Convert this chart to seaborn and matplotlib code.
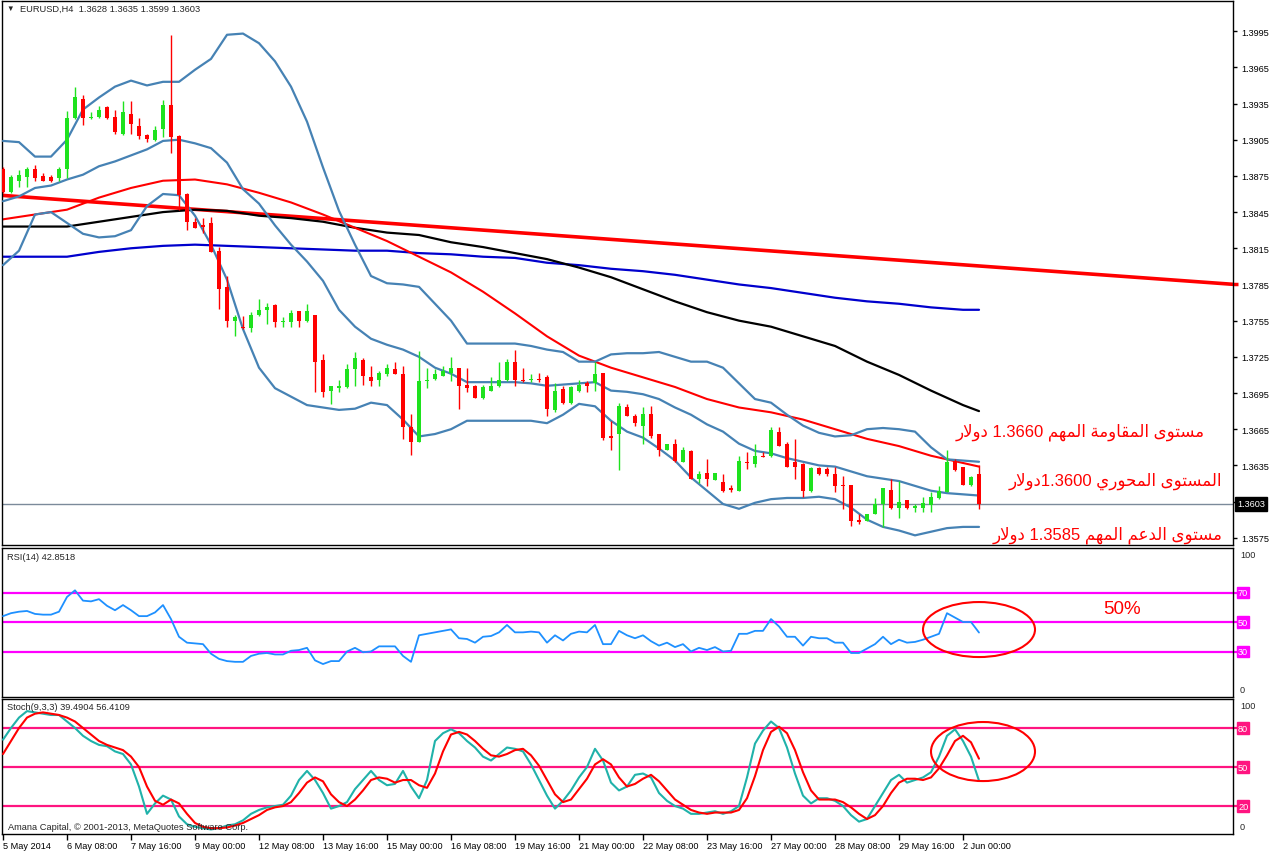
import re
import numpy as np
import pandas as pd
import matplotlib
matplotlib.use("Agg")
import matplotlib.pyplot as plt
import matplotlib.transforms as mtrans
from matplotlib.patches import Ellipse
import seaborn as sns

sns.set_style("white")
plt.rcParams['font.family'] = ['Liberation Sans', 'DejaVu Sans']

# EURUSD H4 candles
opens = [1.3881, 1.3862, 1.3871, 1.3874, 1.3881, 1.3875, 1.3874, 1.3873, 1.3881, 1.3923,
         1.3939, 1.3923, 1.3924, 1.3932, 1.3924, 1.3910, 1.3926, 1.3916, 1.3909, 1.3905,
         1.3914, 1.3934, 1.3908, 1.3860, 1.3837, 1.3834, 1.3836, 1.3813, 1.3783, 1.3755,
         1.3750, 1.3749, 1.3760, 1.3764, 1.3768, 1.3754, 1.3754, 1.3763, 1.3755, 1.3760,
         1.3722, 1.3697, 1.3699, 1.3700, 1.3715, 1.3722, 1.3708, 1.3706, 1.3711, 1.3715,
         1.3711, 1.3667, 1.3654, 1.3705, 1.3707, 1.3709, 1.3712, 1.3716, 1.3702, 1.3701,
         1.3691, 1.3697, 1.3701, 1.3706, 1.3721, 1.3706, 1.3706, 1.3707, 1.3708, 1.3681,
         1.3698, 1.3687, 1.3697, 1.3703, 1.3703, 1.3712, 1.3659, 1.3661, 1.3683, 1.3676,
         1.3668, 1.3678, 1.3661, 1.3648, 1.3653, 1.3638, 1.3647, 1.3624, 1.3629, 1.3623,
         1.3621, 1.3616, 1.3614, 1.3638, 1.3636, 1.3643, 1.3643, 1.3663, 1.3653, 1.3638,
         1.3636, 1.3614, 1.3633, 1.3632, 1.3628, 1.3619, 1.3619, 1.3590, 1.3589, 1.3595,
         1.3603, 1.3615, 1.3600, 1.3606, 1.3600, 1.3600, 1.3602, 1.3608, 1.3613, 1.3639,
         1.3634, 1.3619, 1.3628]
highs = [1.3882, 1.3876, 1.3880, 1.3882, 1.3884, 1.3877, 1.3876, 1.3882, 1.3929, 1.3949,
         1.3942, 1.3928, 1.3933, 1.3933, 1.3930, 1.3937, 1.3937, 1.3923, 1.3910, 1.3916,
         1.3938, 1.3992, 1.3909, 1.3861, 1.3840, 1.3840, 1.3841, 1.3816, 1.3792, 1.3760,
         1.3759, 1.3762, 1.3773, 1.3770, 1.3769, 1.3758, 1.3764, 1.3763, 1.3769, 1.3760,
         1.3727, 1.3701, 1.3706, 1.3719, 1.3729, 1.3724, 1.3717, 1.3713, 1.3719, 1.3721,
         1.3717, 1.3678, 1.3730, 1.3716, 1.3715, 1.3717, 1.3725, 1.3716, 1.3716, 1.3702,
         1.3702, 1.3708, 1.3721, 1.3723, 1.3731, 1.3716, 1.3711, 1.3712, 1.3710, 1.3703,
         1.3701, 1.3701, 1.3706, 1.3705, 1.3721, 1.3712, 1.3672, 1.3687, 1.3686, 1.3678,
         1.3683, 1.3684, 1.3661, 1.3653, 1.3657, 1.3650, 1.3648, 1.3630, 1.3640, 1.3629,
         1.3628, 1.3619, 1.3643, 1.3646, 1.3653, 1.3646, 1.3667, 1.3667, 1.3654, 1.3657,
         1.3637, 1.3634, 1.3634, 1.3634, 1.3634, 1.3626, 1.3619, 1.3595, 1.3595, 1.3608,
         1.3616, 1.3624, 1.3622, 1.3606, 1.3603, 1.3609, 1.3613, 1.3618, 1.3648, 1.3640,
         1.3634, 1.3626, 1.3635]
lows = [1.3861, 1.3861, 1.3866, 1.3866, 1.3871, 1.3871, 1.3870, 1.3871, 1.3873, 1.3922,
        1.3917, 1.3922, 1.3923, 1.3922, 1.3910, 1.3909, 1.3910, 1.3906, 1.3903, 1.3904,
        1.3907, 1.3894, 1.3847, 1.3830, 1.3832, 1.3828, 1.3812, 1.3765, 1.3750, 1.3742,
        1.3748, 1.3746, 1.3759, 1.3752, 1.3750, 1.3750, 1.3750, 1.3750, 1.3754, 1.3696,
        1.3692, 1.3686, 1.3696, 1.3699, 1.3701, 1.3702, 1.3701, 1.3701, 1.3709, 1.3711,
        1.3657, 1.3644, 1.3654, 1.3699, 1.3706, 1.3709, 1.3705, 1.3682, 1.3696, 1.3691,
        1.3690, 1.3697, 1.3700, 1.3705, 1.3701, 1.3704, 1.3704, 1.3704, 1.3676, 1.3679,
        1.3686, 1.3686, 1.3696, 1.3696, 1.3697, 1.3656, 1.3648, 1.3631, 1.3676, 1.3668,
        1.3653, 1.3658, 1.3643, 1.3648, 1.3638, 1.3638, 1.3624, 1.3620, 1.3618, 1.3623,
        1.3613, 1.3613, 1.3614, 1.3632, 1.3634, 1.3642, 1.3642, 1.3651, 1.3634, 1.3624,
        1.3609, 1.3613, 1.3627, 1.3626, 1.3613, 1.3599, 1.3585, 1.3586, 1.3589, 1.3595,
        1.3584, 1.3599, 1.3591, 1.3599, 1.3596, 1.3596, 1.3596, 1.3607, 1.3613, 1.3630,
        1.3619, 1.3618, 1.3599]
closes = [1.3862, 1.3874, 1.3876, 1.3881, 1.3873, 1.3871, 1.3871, 1.3881, 1.3923, 1.3940,
          1.3923, 1.3924, 1.3930, 1.3923, 1.3911, 1.3928, 1.3918, 1.3908, 1.3906, 1.3913,
          1.3934, 1.3907, 1.3859, 1.3837, 1.3832, 1.3833, 1.3812, 1.3781, 1.3755, 1.3758,
          1.3749, 1.3760, 1.3764, 1.3766, 1.3754, 1.3755, 1.3761, 1.3755, 1.3763, 1.3721,
          1.3696, 1.3701, 1.3701, 1.3715, 1.3724, 1.3709, 1.3705, 1.3712, 1.3716, 1.3711,
          1.3667, 1.3654, 1.3705, 1.3706, 1.3711, 1.3713, 1.3716, 1.3701, 1.3699, 1.3691,
          1.3700, 1.3701, 1.3706, 1.3721, 1.3706, 1.3705, 1.3707, 1.3706, 1.3682, 1.3697,
          1.3687, 1.3700, 1.3702, 1.3701, 1.3711, 1.3658, 1.3658, 1.3684, 1.3676, 1.3670,
          1.3678, 1.3659, 1.3648, 1.3653, 1.3639, 1.3648, 1.3624, 1.3628, 1.3624, 1.3629,
          1.3614, 1.3615, 1.3639, 1.3637, 1.3643, 1.3642, 1.3664, 1.3651, 1.3634, 1.3634,
          1.3614, 1.3633, 1.3628, 1.3628, 1.3618, 1.3618, 1.3589, 1.3588, 1.3595, 1.3603,
          1.3616, 1.3600, 1.3605, 1.3600, 1.3601, 1.3604, 1.3609, 1.3614, 1.3638, 1.3631,
          1.3619, 1.3625, 1.3603]

# Bollinger bands, sampled every 2 bars
bb_idx = list(range(0, 121, 2)) + [122]
bb_upper = [1.3904, 1.3903, 1.3891, 1.3891, 1.3905, 1.3930, 1.3940, 1.3949, 1.3954, 1.3950,
            1.3953, 1.3953, 1.3963, 1.3972, 1.3992, 1.3993, 1.3985, 1.3970, 1.3949, 1.3920,
            1.3882, 1.3846, 1.3818, 1.3792, 1.3786, 1.3785, 1.3783, 1.3769, 1.3755, 1.3736,
            1.3736, 1.3736, 1.3736, 1.3734, 1.3731, 1.3729, 1.3721, 1.3721, 1.3727, 1.3728,
            1.3728, 1.3729, 1.3725, 1.3721, 1.3721, 1.3716, 1.3703, 1.3690, 1.3687, 1.3677,
            1.3668, 1.3662, 1.3659, 1.3660, 1.3665, 1.3666, 1.3665, 1.3663, 1.3650, 1.3640,
            1.3639, 1.3638]
bb_middle = [1.3854, 1.3858, 1.3865, 1.3867, 1.3872, 1.3876, 1.3883, 1.3887, 1.3892, 1.3897,
             1.3904, 1.3905, 1.3902, 1.3898, 1.3886, 1.3864, 1.3852, 1.3834, 1.3818, 1.3804,
             1.3788, 1.3764, 1.3750, 1.3740, 1.3735, 1.3731, 1.3725, 1.3716, 1.3711, 1.3704,
             1.3704, 1.3704, 1.3704, 1.3703, 1.3701, 1.3702, 1.3703, 1.3704, 1.3697, 1.3696,
             1.3694, 1.3690, 1.3683, 1.3677, 1.3669, 1.3663, 1.3653, 1.3647, 1.3645, 1.3641,
             1.3638, 1.3635, 1.3634, 1.3630, 1.3626, 1.3624, 1.3622, 1.3618, 1.3614, 1.3612,
             1.3611, 1.3610]
bb_lower = [1.3801, 1.3813, 1.3843, 1.3845, 1.3836, 1.3827, 1.3824, 1.3825, 1.3830, 1.3850,
            1.3860, 1.3859, 1.3842, 1.3818, 1.3789, 1.3748, 1.3716, 1.3699, 1.3692, 1.3685,
            1.3683, 1.3681, 1.3682, 1.3687, 1.3685, 1.3673, 1.3659, 1.3661, 1.3665, 1.3672,
            1.3672, 1.3672, 1.3672, 1.3672, 1.3670, 1.3677, 1.3686, 1.3684, 1.3672, 1.3663,
            1.3658, 1.3649, 1.3639, 1.3625, 1.3614, 1.3603, 1.3599, 1.3604, 1.3607, 1.3608,
            1.3608, 1.3609, 1.3607, 1.3600, 1.3590, 1.3584, 1.3581, 1.3577, 1.3580, 1.3583,
            1.3584, 1.3584]

# moving averages, sampled every 4 bars
ma_idx = [0, 4, 8, 12, 16, 20, 24, 28, 32, 36, 40, 44, 48, 52, 56, 60,
          64, 68, 72, 76, 80, 84, 88, 92, 96, 100, 104, 108, 112, 116, 120, 122]
ma_red = [1.3839, 1.3843, 1.3847, 1.3857, 1.3865, 1.3871, 1.3872, 1.3868, 1.3861, 1.3853,
          1.3843, 1.3832, 1.3821, 1.3808, 1.3795, 1.3779, 1.3761, 1.3742, 1.3726, 1.3716,
          1.3708, 1.3700, 1.3690, 1.3683, 1.3679, 1.3673, 1.3665, 1.3657, 1.3651, 1.3643,
          1.3637, 1.3634]
ma_black = [1.3833, 1.3833, 1.3833, 1.3837, 1.3841, 1.3845, 1.3847, 1.3846, 1.3842, 1.3840,
            1.3837, 1.3832, 1.3828, 1.3826, 1.3820, 1.3816, 1.3811, 1.3806, 1.3799, 1.3791,
            1.3781, 1.3771, 1.3762, 1.3755, 1.3750, 1.3742, 1.3734, 1.3721, 1.3710, 1.3697,
            1.3685, 1.3680]
ma_blue = [1.3808, 1.3808, 1.3808, 1.3812, 1.3815, 1.3817, 1.3818, 1.3817, 1.3816, 1.3815,
           1.3814, 1.3813, 1.3813, 1.3811, 1.3810, 1.3808, 1.3807, 1.3803, 1.3801, 1.3798,
           1.3796, 1.3793, 1.3789, 1.3785, 1.3782, 1.3778, 1.3774, 1.3771, 1.3769, 1.3766,
           1.3764, 1.3764]

# hand-drawn trend line
trend_idx = [-0.4, 154.0]
trend_px = [1.3859, 1.3785]

rsi = [54, 56, 57, 57.5, 55.5, 55, 55, 57, 67, 71.5,
       64.5, 64, 65.5, 61, 58, 61.5, 58, 54, 54, 56.5,
       61.5, 52, 40, 36, 35.5, 35, 28.5, 25, 23.5, 23,
       23, 27, 28.5, 29, 28, 28, 30.5, 31, 32.5, 24,
       21.5, 23.5, 23.5, 30, 32.5, 29.5, 30, 33.5, 33.5, 33.5,
       27, 23, 41, 42, 43, 44, 45, 39, 38.5, 36,
       40, 40.5, 43, 48, 43, 43, 43.5, 43, 36, 41,
       37.5, 42, 43.5, 43, 48, 35, 35, 44, 41, 39,
       41, 37, 34, 36, 33, 35, 30, 32.5, 31, 33,
       30, 30.5, 42, 42, 44, 44, 52, 47, 40, 40,
       34, 40, 39, 39, 36, 36, 29, 29, 32, 35,
       40, 35, 38, 36, 36.5, 38, 40, 42, 56, 53,
       50, 50, 42.8518]

stoch_k = [71, 80, 88, 93, 92, 91, 90, 90, 85, 80,
           74, 70, 67, 66, 62, 60, 52, 35, 14, 22,
           28, 25, 12, 6, 4, 3, 2, 3, 5, 6,
           9, 14, 17, 19, 20, 21, 28, 40, 47, 40,
           30, 18, 20, 23, 33, 40, 47, 40, 36, 37,
           47, 35, 26, 40, 70, 76, 79, 76, 70, 65,
           58, 55, 60, 65, 64, 62, 52, 40, 28, 18,
           24, 32, 42, 50, 64, 55, 38, 32, 35, 44,
           45, 42, 30, 24, 20, 18, 14, 14, 15, 16,
           14, 16, 20, 42, 68, 78, 85, 80, 65, 45,
           28, 22, 26, 26, 24, 20, 13, 8, 10, 20,
           30, 40, 44, 38, 40, 42, 46, 58, 74, 79,
           70, 58, 39.4904]
stoch_d = [60, 70, 80, 88, 91, 92, 91, 90, 88, 85,
           80, 75, 70, 67, 65, 63, 58, 50, 35, 24,
           21, 25, 22, 14, 7, 4, 3, 3, 3.5, 5,
           7, 10, 13, 17, 19, 20, 23, 30, 38, 42,
           39, 29, 23, 20, 25, 32, 40, 42, 41, 38,
           40, 40, 36, 34, 45, 62, 75, 77, 75, 70,
           64, 59, 58, 60, 63, 64, 59, 51, 40, 29,
           23, 25, 33, 41, 52, 56, 52, 42, 35, 37,
           41, 44, 39, 32, 25, 21, 17, 15, 14, 15,
           15, 15, 17, 26, 43, 63, 77, 81, 76, 63,
           46, 32, 25, 25, 25, 23, 19, 14, 10, 13,
           20, 30, 38, 41, 41, 40, 42, 49, 59, 70,
           74, 69, 56.4109]

date_labels = ["5 May 2014", "6 May 08:00", "7 May 16:00", "9 May 00:00", "12 May 08:00",
               "13 May 16:00", "15 May 00:00", "16 May 08:00", "19 May 16:00", "21 May 00:00",
               "22 May 08:00", "23 May 16:00", "27 May 00:00", "28 May 08:00", "29 May 16:00",
               "2 Jun 00:00"]

note_resist = "مستوى المقاومة المهم 1.3660 دولار"
note_pivot = "المستوى المحوري 1.3600دولار"
note_support = "مستوى الدعم المهم 1.3585 دولار"


# tiny Arabic shaper: contextual forms + right-to-left order
AR_FORMS = {
    'ا': ('\ufe8d', '\ufe8e', None, None),
    'ت': ('\ufe95', '\ufe96', '\ufe97', '\ufe98'),
    'ح': ('\ufea1', '\ufea2', '\ufea3', '\ufea4'),
    'د': ('\ufea9', '\ufeaa', None, None),
    'ر': ('\ufead', '\ufeae', None, None),
    'س': ('\ufeb1', '\ufeb2', '\ufeb3', '\ufeb4'),
    'ع': ('\ufec9', '\ufeca', '\ufecb', '\ufecc'),
    'ف': ('\ufed1', '\ufed2', '\ufed3', '\ufed4'),
    'ق': ('\ufed5', '\ufed6', '\ufed7', '\ufed8'),
    'ل': ('\ufedd', '\ufede', '\ufedf', '\ufee0'),
    'م': ('\ufee1', '\ufee2', '\ufee3', '\ufee4'),
    'ه': ('\ufee9', '\ufeea', '\ufeeb', '\ufeec'),
    'ة': ('\ufe93', '\ufe94', None, None),
    'و': ('\ufeed', '\ufeee', None, None),
    'ى': ('\ufeef', '\ufef0', None, None),
    'ي': ('\ufef1', '\ufef2', '\ufef3', '\ufef4'),
}


def shape_arabic(text):
    out = []
    i = 0
    while i < len(text):
        ch = text[i]
        if ch not in AR_FORMS:
            out.append(ch)
            i += 1
            continue
        prev = text[i - 1] if i > 0 else ''
        joins_prev = prev in AR_FORMS and AR_FORMS[prev][2] is not None
        if ch == 'ل' and i + 1 < len(text) and text[i + 1] == 'ا':
            out.append('\ufefc' if joins_prev else '\ufefb')
            i += 2
            continue
        nxt = text[i + 1] if i + 1 < len(text) else ''
        joins_next = AR_FORMS[ch][2] is not None and nxt in AR_FORMS
        iso, fin, ini, med = AR_FORMS[ch]
        if joins_prev and joins_next:
            out.append(med)
        elif joins_prev:
            out.append(fin)
        elif joins_next:
            out.append(ini)
        else:
            out.append(iso)
        i += 1
    s = ''.join(out)[::-1]
    return re.sub(r'[0-9.]+', lambda m: m.group(0)[::-1], s)


BULL = '#1ee21e'
BEAR = '#ff0000'
BB_COL = '#4682b4'
W, H = 1276, 853

fig = plt.figure(figsize=(W / 100, H / 100), dpi=100)


def panel(top, bottom):
    return fig.add_axes([2 / W, 1 - bottom / H, 1231 / W, (bottom - top) / H])


ax = panel(2, 546)
ax_rsi = panel(549, 698)
ax_st = panel(700, 835)

for a in (ax, ax_rsi, ax_st):
    a.set_xlim(-0.125, 153.75)
    for s in a.spines.values():
        s.set_color('black')
        s.set_linewidth(1)
    a.tick_params(axis='y', left=False, right=True, labelleft=False, labelright=True,
                  direction='out', length=3, width=1, labelsize=6.6, pad=3, colors='black')
    a.set_xticks([])

# ---- main price panel
idx = np.arange(len(opens))
o, hi, lo, c = map(np.array, (opens, highs, lows, closes))
col = np.where(c >= o, BULL, BEAR)

ax.axhline(closes[-1], color='#7b8a9a', lw=1, zorder=1)
sns.lineplot(x=trend_idx, y=trend_px, ax=ax, color='#ff0000', lw=2.6, zorder=2)
sns.lineplot(x=ma_idx, y=ma_blue, ax=ax, color='#0000cd', lw=1.6, zorder=2)
sns.lineplot(x=ma_idx, y=ma_black, ax=ax, color='black', lw=1.6, zorder=2)
sns.lineplot(x=ma_idx, y=ma_red, ax=ax, color='#ff0000', lw=1.5, zorder=2)
for band in (bb_upper, bb_middle, bb_lower):
    sns.lineplot(x=bb_idx, y=band, ax=ax, color=BB_COL, lw=1.6, zorder=3)

ax.vlines(idx, lo, hi, colors=col, lw=1, zorder=4)
ax.bar(idx, np.maximum(np.abs(c - o), 0.00004), bottom=np.minimum(o, c), width=0.62,
       color=col, linewidth=0, zorder=5)

ax.set_ylim(1.3569, 1.4020)
pticks = np.arange(1.3575, 1.39951, 0.003)
ax.set_yticks(pticks)
# the 1.3605 label sits under the current-price box, so it is left blank
ax.set_yticklabels(["" if abs(p - closes[-1]) < 0.0010 else f"{p:.4f}" for p in pticks])
ax.set_ylabel('')

trm = mtrans.blended_transform_factory(ax.transAxes, ax.transData)
ax.text(1 + 4 / 1231, closes[-1], f"{closes[-1]:.4f}", transform=trm, color='white',
        fontsize=6.6, va='center', ha='left', zorder=10, clip_on=False,
        bbox=dict(facecolor='black', edgecolor='black', pad=1.6))
ax.plot([1.0, 1 + 5 / 1231], [trend_px[1], trend_px[1]], transform=trm, color='#ff0000',
        lw=2.5, clip_on=False, solid_capstyle='butt')

ax.text(0.004, 0.993, '\u25bc', transform=ax.transAxes, fontsize=5.5, va='top', ha='left')
ax.text(0.0145, 0.995, f"EURUSD,H4  {opens[-1]:.4f} {highs[-1]:.4f} {lows[-1]:.4f} {closes[-1]:.4f}",
        transform=ax.transAxes, fontsize=6.7, va='top', ha='left')

for txt, xr, yv in ((note_resist, 150.25, 1.36634), (note_pivot, 152.4, 1.36228),
                    (note_support, 152.4, 1.35780)):
    ax.text(xr, yv, shape_arabic(txt), color='#ff0000', fontsize=12, ha='right',
            va='center', family=['Liberation Sans', 'DejaVu Sans'], zorder=8)

# ---- RSI panel
sns.lineplot(x=idx, y=rsi, ax=ax_rsi, color='#1e90ff', lw=1.3, zorder=3)
for lvl in (70, 50, 30):
    ax_rsi.axhline(lvl, color='#ff00ff', lw=1.6, zorder=2)
ax_rsi.set_ylim(-0.85, 100.2)
ax_rsi.set_yticks([])
ax_rsi.set_ylabel('')
ax_rsi.add_patch(Ellipse((122.0, 44.9), 14, 37.3, fill=False, edgecolor='#ff0000',
                         lw=1.5, clip_on=False, zorder=6))
ax_rsi.text(139.9, 59.5, "50%", color='#ff0000', fontsize=13.5, ha='center', va='center')
ax_rsi.text(0.004, 0.975, f"RSI(14) {rsi[-1]:.4f}", transform=ax_rsi.transAxes,
            fontsize=6.7, va='top', ha='left')

# ---- Stochastic panel
sns.lineplot(x=idx, y=stoch_k, ax=ax_st, color='#20b2aa', lw=1.5, zorder=3)
sns.lineplot(x=idx, y=stoch_d, ax=ax_st, color='#ff0000', lw=1.5, zorder=4)
for lvl in (80, 50, 20):
    ax_st.axhline(lvl, color='#ff1480', lw=1.6, zorder=2)
ax_st.set_ylim(-1.5, 102.3)
ax_st.set_yticks([])
ax_st.set_ylabel('')
ax_st.add_patch(Ellipse((122.5, 61.9), 13, 45.4, fill=False, edgecolor='#ff0000',
                        lw=1.5, clip_on=False, zorder=6))
ax_st.text(0.004, 0.975, f"Stoch(9,3,3) {stoch_k[-1]:.4f} {stoch_d[-1]:.4f}",
           transform=ax_st.transAxes, fontsize=6.7, va='top', ha='left')
ax_st.text(0.005, 0.025, "Amana Capital, \u00a9 2001-2013, MetaQuotes Software Corp.",
           transform=ax_st.transAxes, fontsize=6.7, va='bottom', ha='left', zorder=7)

ax_st.set_xticks(np.arange(0, 8 * len(date_labels), 8))
ax_st.set_xticklabels(date_labels, ha='left')
ax_st.tick_params(axis='x', bottom=True, direction='out', length=4, width=1,
                  labelsize=6.6, pad=1, colors='black')

# right side level labels for the oscillators
for a, levels, lc in ((ax_rsi, (70, 50, 30), '#ff00ff'), (ax_st, (80, 50, 20), '#ff1480')):
    tr = mtrans.blended_transform_factory(a.transAxes, a.transData)
    for lvl in levels:
        a.plot([1.0, 1 + 5 / 1231], [lvl, lvl], transform=tr, color=lc, lw=1.6, clip_on=False)
        a.text(1 + 5 / 1231, lvl, str(lvl), transform=tr, color='white', fontsize=6.6,
               va='center', ha='left', clip_on=False,
               bbox=dict(facecolor=lc, edgecolor=lc, pad=0.8))
    a.text(1 + 7 / 1231, 0.985, "100", transform=a.transAxes, fontsize=6.6, va='top', ha='left')
    a.text(1 + 7 / 1231, 0.02, "0", transform=a.transAxes, fontsize=6.6, va='bottom', ha='left')

fig.savefig("out.png", dpi=100)
